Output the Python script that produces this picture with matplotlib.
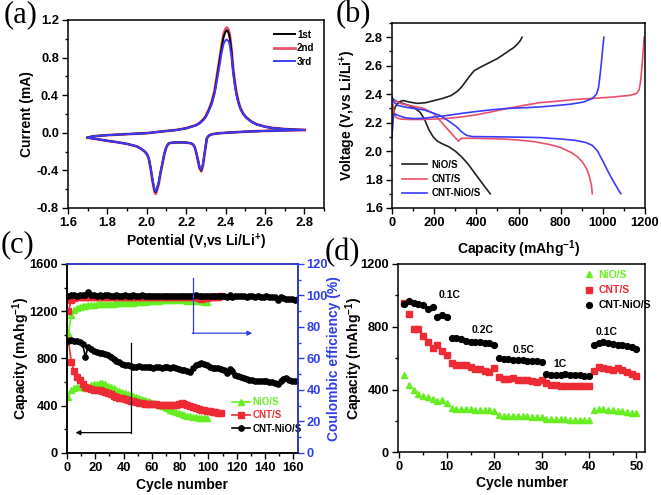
"""Four-panel Li-S cell figure: CV, charge/discharge, cycling, rate capability."""

import numpy as np
import matplotlib

matplotlib.use("Agg")
import matplotlib.pyplot as plt
from matplotlib.ticker import MultipleLocator

W, H = 661, 495

# ---- (a) cyclic voltammetry -------------------------------------------------
cv_cath_v = [2.80, 2.70, 2.60, 2.50, 2.45, 2.40, 2.36, 2.33, 2.315, 2.305,
             2.295, 2.285, 2.277, 2.268, 2.260, 2.250, 2.243, 2.235, 2.225, 2.20,
             2.17, 2.14, 2.12, 2.11, 2.10, 2.09, 2.08, 2.07, 2.06, 2.05,
             2.045, 2.04, 2.03, 2.02, 2.01, 2.00, 1.99, 1.97, 1.95, 1.90,
             1.85, 1.80, 1.75, 1.70]
cv_cath_1st = [0.030, 0.026, 0.020, 0.012, 0.006, 0.000, -0.006, -0.016, -0.030, -0.060,
               -0.200, -0.340, -0.400, -0.370, -0.290, -0.200, -0.150, -0.125, -0.112, -0.104,
               -0.102, -0.103, -0.108, -0.115, -0.150, -0.215, -0.320, -0.420, -0.535, -0.610,
               -0.630, -0.615, -0.515, -0.380, -0.270, -0.225, -0.200, -0.168, -0.145, -0.118,
               -0.100, -0.085, -0.068, -0.052]
cv_cath_2nd = [0.030, 0.026, 0.020, 0.012, 0.006, 0.000, -0.006, -0.016, -0.030, -0.062,
               -0.205, -0.350, -0.410, -0.378, -0.295, -0.202, -0.150, -0.125, -0.112, -0.104,
               -0.102, -0.103, -0.108, -0.115, -0.150, -0.218, -0.325, -0.430, -0.550, -0.625,
               -0.650, -0.630, -0.525, -0.385, -0.272, -0.225, -0.200, -0.168, -0.145, -0.118,
               -0.100, -0.085, -0.068, -0.052]
cv_cath_3rd = [0.030, 0.026, 0.020, 0.012, 0.006, 0.000, -0.006, -0.016, -0.030, -0.060,
               -0.195, -0.335, -0.392, -0.362, -0.285, -0.198, -0.150, -0.125, -0.112, -0.104,
               -0.102, -0.103, -0.108, -0.115, -0.150, -0.212, -0.315, -0.415, -0.530, -0.600,
               -0.620, -0.605, -0.510, -0.375, -0.268, -0.225, -0.200, -0.168, -0.145, -0.118,
               -0.100, -0.085, -0.068, -0.052]

cv_anod_v = [1.70, 1.72, 1.75, 1.80, 1.90, 2.00, 2.08, 2.15, 2.20, 2.25,
             2.27, 2.29, 2.30, 2.315, 2.33, 2.345, 2.355, 2.37, 2.38, 2.39,
             2.40, 2.407, 2.415, 2.421, 2.43, 2.438, 2.447, 2.455, 2.465, 2.475,
             2.49, 2.506, 2.53, 2.557, 2.60, 2.64, 2.70, 2.75, 2.80]
cv_anod_1st = [-0.052, -0.040, -0.033, -0.025, -0.014, -0.004, 0.015, 0.030, 0.048, 0.080,
               0.105, 0.145, 0.175, 0.240, 0.320, 0.440, 0.570, 0.770, 0.900, 1.020,
               1.075, 1.090, 1.065, 1.020, 0.870, 0.675, 0.525, 0.420, 0.330, 0.260,
               0.200, 0.160, 0.120, 0.090, 0.065, 0.050, 0.040, 0.034, 0.030]
cv_anod_2nd = [-0.052, -0.040, -0.033, -0.025, -0.014, -0.004, 0.015, 0.030, 0.048, 0.082,
               0.108, 0.150, 0.180, 0.248, 0.330, 0.455, 0.590, 0.790, 0.925, 1.050,
               1.105, 1.120, 1.095, 1.045, 0.895, 0.695, 0.540, 0.430, 0.337, 0.265,
               0.204, 0.163, 0.122, 0.091, 0.066, 0.051, 0.040, 0.034, 0.030]
cv_anod_3rd = [-0.052, -0.040, -0.033, -0.025, -0.014, -0.004, 0.015, 0.030, 0.048, 0.078,
               0.102, 0.140, 0.170, 0.232, 0.305, 0.420, 0.540, 0.720, 0.850, 0.945,
               0.985, 0.992, 0.975, 0.935, 0.815, 0.645, 0.505, 0.405, 0.320, 0.255,
               0.197, 0.158, 0.118, 0.089, 0.064, 0.050, 0.040, 0.034, 0.030]

# ---- (b) charge / discharge profiles ----------------------------------------
nio_chg_cap = [0, 3, 8, 15, 25, 40, 55, 80, 120, 160, 200, 240, 280, 310, 330, 350,
               370, 390, 420, 460, 500, 540, 580, 600, 610, 617]
nio_chg_v = [2.10, 2.20, 2.27, 2.31, 2.33, 2.35, 2.355, 2.345, 2.335, 2.34, 2.355,
             2.37, 2.39, 2.42, 2.45, 2.49, 2.53, 2.565, 2.59, 2.62, 2.65, 2.69,
             2.73, 2.76, 2.78, 2.80]
nio_dis_cap = [0, 20, 50, 80, 110, 135, 155, 175, 195, 215, 240, 270, 300, 330, 360,
               390, 420, 445, 466]
nio_dis_v = [2.37, 2.35, 2.335, 2.32, 2.30, 2.27, 2.22, 2.15, 2.10, 2.07, 2.05, 2.03,
             2.00, 1.96, 1.91, 1.85, 1.79, 1.74, 1.70]

cnt_chg_cap = [0, 4, 10, 20, 40, 80, 150, 250, 330, 400, 470, 550, 620, 700, 780,
               860, 950, 1050, 1130, 1160, 1172, 1180, 1187, 1192, 1196]
cnt_chg_v = [2.26, 2.33, 2.27, 2.235, 2.225, 2.222, 2.222, 2.228, 2.24, 2.255, 2.275,
             2.30, 2.32, 2.34, 2.35, 2.362, 2.37, 2.38, 2.392, 2.405, 2.43, 2.50,
             2.62, 2.72, 2.80]
cnt_dis_cap = [0, 10, 50, 100, 150, 197, 230, 260, 290, 315, 330, 380, 450, 520, 600,
               680, 750, 800, 850, 880, 905, 925, 938, 946, 950]
cnt_dis_v = [2.36, 2.355, 2.33, 2.315, 2.30, 2.264, 2.21, 2.16, 2.11, 2.07, 2.09, 2.09,
             2.088, 2.085, 2.078, 2.065, 2.045, 2.025, 1.99, 1.96, 1.92, 1.87, 1.81,
             1.76, 1.70]

cnio_chg_cap = [0, 3, 8, 15, 30, 60, 100, 150, 200, 260, 330, 400, 470, 550, 630,
                700, 780, 850, 910, 950, 970, 980, 988, 995, 1000, 1005]
cnio_chg_v = [2.10, 2.20, 2.25, 2.26, 2.25, 2.235, 2.228, 2.23, 2.24, 2.25, 2.265,
              2.278, 2.29, 2.30, 2.305, 2.31, 2.32, 2.33, 2.345, 2.37, 2.40, 2.45,
              2.55, 2.65, 2.73, 2.80]
cnio_dis_cap = [0, 10, 30, 60, 100, 150, 190, 228, 270, 307, 330, 355, 380, 500, 600,
                700, 800, 870, 920, 950, 975, 1000, 1020, 1045, 1065, 1085]
cnio_dis_v = [2.38, 2.34, 2.32, 2.31, 2.30, 2.29, 2.27, 2.25, 2.21, 2.17, 2.135, 2.11,
              2.102, 2.10, 2.098, 2.095, 2.085, 2.075, 2.06, 2.04, 2.00, 1.93, 1.87,
              1.80, 1.75, 1.70]

# ---- (c) long cycling (every second cycle) ----------------------------------
cyc_cnio = np.arange(1, 164, 2)
cap_cnio = [950, 955, 950, 945, 935, 920, 815, 900, 880, 865,
            850, 845, 845, 838, 830, 810, 795, 780, 770, 755,
            745, 740, 735, 730, 728, 732, 728, 728, 725, 728,
            722, 725, 724, 722, 728, 724, 722, 725, 715, 712,
            705, 700, 695, 682, 715, 740, 755, 762, 750, 742,
            730, 722, 718, 715, 712, 705, 680, 710, 690, 660,
            650, 640, 635, 628, 620, 615, 612, 612, 608, 612,
            605, 600, 598, 590, 580, 612, 625, 630, 618, 612,
            610, 605]
ce_cnio = [99.8, 100.2, 100.0, 99.6, 100.3, 100.1, 100.4, 102.0, 100.5, 100.2,
           99.9, 100.1, 99.7, 100.0, 100.2, 99.8, 99.9, 100.1, 99.6, 99.9,
           100.0, 99.7, 99.8, 100.1, 99.6, 99.9, 100.0, 99.7, 99.8, 99.5,
           99.8, 99.6, 99.9, 99.7, 99.6, 99.8, 99.5, 99.7, 99.6, 99.8,
           99.5, 99.7, 99.6, 99.8, 99.7, 100.0, 99.5, 99.8, 99.6, 99.7,
           99.9, 99.5, 99.7, 99.4, 99.8, 99.6, 99.3, 100.2, 99.0, 99.6,
           99.4, 99.7, 99.5, 99.3, 99.6, 99.4, 99.2, 99.5, 99.3, 99.1,
           99.4, 99.0, 98.8, 99.2, 97.0, 99.1, 98.3, 97.8, 97.5, 97.8,
           97.4, 97.6]

cyc_cnt = np.arange(1, 110, 2)
cap_cnt = [955, 770, 690, 645, 620, 580, 560, 548, 540, 533,
           530, 528, 526, 515, 505, 495, 482, 474, 468, 461,
           455, 448, 442, 436, 430, 424, 420, 417, 414, 413,
           412, 410, 408, 406, 404, 404, 403, 404, 405, 410,
           418, 415, 408, 395, 385, 376, 370, 364, 360, 356,
           350, 346, 342, 338, 334]
ce_cnt = [90.0, 97.0, 98.3, 98.7, 98.9, 99.0, 99.1, 99.0, 99.2, 99.1,
          99.0, 99.2, 99.1, 99.0, 99.1, 99.2, 99.0, 99.1, 99.2, 99.1,
          99.0, 99.1, 99.2, 99.1, 99.0, 99.2, 99.1, 99.0, 99.2, 99.1,
          99.0, 99.1, 99.2, 99.1, 99.2, 99.0, 99.1, 99.2, 99.1, 99.3,
          99.2, 99.1, 99.2, 99.3, 99.2, 99.0, 98.3, 98.0, 98.2, 98.5,
          98.7, 98.9, 99.0, 99.2, 99.4]

cyc_nio = np.arange(1, 100, 2)
cap_nio = [470, 530, 548, 555, 560, 556, 552, 560, 572, 580,
           585, 588, 590, 585, 568, 555, 545, 535, 522, 512,
           504, 498, 488, 481, 472, 465, 458, 450, 441, 432,
           424, 416, 405, 394, 385, 375, 364, 355, 345, 338,
           330, 322, 315, 310, 305, 300, 296, 294, 292, 290]
ce_nio = [76.0, 87.5, 90.5, 92.0, 92.8, 93.3, 93.6, 93.9, 94.0, 94.2,
          94.3, 94.4, 94.5, 94.4, 94.6, 94.7, 94.8, 94.9, 95.0, 95.1,
          95.3, 95.2, 95.5, 95.4, 95.6, 95.8, 95.7, 96.0, 96.2, 96.3,
          96.5, 96.4, 96.6, 96.8, 97.0, 97.2, 97.4, 97.1, 97.3, 97.5,
          97.0, 96.8, 96.6, 96.8, 96.5, 96.3, 96.2, 96.4, 96.0, 95.8]

# ---- (d) rate capability ----------------------------------------------------
rate_cyc = np.arange(1, 51)
rate_nio = [493, 432, 397, 370, 361, 354, 340, 329, 331, 316,
            280, 277, 276, 276, 274, 272, 271, 270, 268, 266,
            238, 232, 231, 230, 230, 229, 229, 228, 227, 226,
            215, 210, 210, 210, 210, 208, 208, 208, 207, 206,
            268, 278, 276, 272, 268, 266, 262, 258, 252, 250]
rate_cnt = [949, 881, 786, 786, 743, 701, 667, 684, 648, 620,
            567, 556, 556, 556, 542, 531, 531, 520, 510, 535,
            478, 467, 467, 471, 461, 461, 461, 457, 446, 461,
            440, 429, 429, 425, 425, 425, 425, 425, 423, 423,
            518, 546, 538, 533, 525, 538, 522, 512, 500, 486]
rate_cnio = [945, 966, 950, 945, 939, 915, 924, 860, 875, 862,
             730, 730, 720, 709, 705, 700, 700, 698, 695, 685,
             599, 595, 592, 590, 588, 586, 585, 582, 580, 575,
             497, 495, 495, 495, 497, 490, 490, 490, 485, 485,
             684, 698, 705, 698, 690, 686, 682, 680, 670, 660]
rate_labels = ["0.1C", "0.2C", "0.5C", "1C", "0.1C"]
rate_label_pos = [(10.5, 1000), (17.6, 778), (26.2, 650), (33.8, 565), (43.7, 768)]

GREEN = "#66ee22"
RED = "#ee2b35"
CV_RED = "#e8506a"
BLUE = "#3b3bff"
AX_BLUE = "#2f3fe8"
CAP_LABEL = r"Capacity (mAhg$^{-1}$)"
LABEL_FS = 10
TICK_FS = 9.3


def _box(left, top, right, bottom):
    return [left / W, 1 - bottom / H, (right - left) / W, (bottom - top) / H]


def _style(ax):
    ax.tick_params(which="both", direction="out", width=1.0, labelsize=TICK_FS, pad=2.5)
    ax.tick_params(which="major", length=4)
    ax.tick_params(which="minor", length=2.5)
    for s in ax.spines.values():
        s.set_linewidth(1.1)


def _panel_a(ax):
    ax.plot(cv_cath_v, cv_cath_2nd, color=CV_RED, lw=2.0, zorder=2)
    ax.plot(cv_anod_v, cv_anod_2nd, color=CV_RED, lw=2.0, zorder=2, label="2nd")
    ax.plot(cv_cath_v, cv_cath_1st, color="black", lw=1.4, zorder=3)
    ax.plot(cv_anod_v, cv_anod_1st, color="black", lw=1.4, zorder=3, label="1st")
    ax.plot(cv_cath_v, cv_cath_3rd, color=BLUE, lw=1.4, zorder=4)
    ax.plot(cv_anod_v, cv_anod_3rd, color=BLUE, lw=1.4, zorder=4, label="3rd")
    ax.set_xlim(1.6, 2.9)
    ax.set_ylim(-0.8, 1.2)
    ax.xaxis.set_major_locator(MultipleLocator(0.2))
    ax.xaxis.set_minor_locator(MultipleLocator(0.1))
    ax.yaxis.set_major_locator(MultipleLocator(0.4))
    ax.yaxis.set_minor_locator(MultipleLocator(0.2))
    ax.xaxis.set_major_formatter(plt.FormatStrFormatter("%.1f"))
    ax.yaxis.set_major_formatter(plt.FormatStrFormatter("%.1f"))
    ax.set_xlabel(r"Potential (V,vs Li/Li$^{+}$)", fontsize=LABEL_FS)
    ax.set_ylabel("Current (mA)", fontsize=LABEL_FS)
    ax.xaxis.set_label_coords(0.5, -0.125)
    ax.yaxis.set_label_coords(-0.133, 0.5)
    h, l = ax.get_legend_handles_labels()
    order = [1, 0, 2]
    ax.legend([h[i] for i in order], [l[i] for i in order], loc="upper right",
              frameon=False, fontsize=7, handlelength=2.2, handletextpad=0.2,
              labelspacing=0.35, borderaxespad=0.6)
    _style(ax)


def _panel_b(ax):
    ax.plot(nio_chg_cap, nio_chg_v, color="#222222", lw=1.2)
    ax.plot(nio_dis_cap, nio_dis_v, color="#222222", lw=1.2, label="NiO/S")
    ax.plot(cnt_chg_cap, cnt_chg_v, color=CV_RED, lw=1.2)
    ax.plot(cnt_dis_cap, cnt_dis_v, color=CV_RED, lw=1.2, label="CNT/S")
    ax.plot(cnio_chg_cap, cnio_chg_v, color=BLUE, lw=1.2)
    ax.plot(cnio_dis_cap, cnio_dis_v, color=BLUE, lw=1.2, label="CNT-NiO/S")
    ax.set_xlim(0, 1200)
    ax.set_ylim(1.6, 2.9)
    ax.xaxis.set_major_locator(MultipleLocator(200))
    ax.xaxis.set_minor_locator(MultipleLocator(100))
    ax.yaxis.set_major_locator(MultipleLocator(0.2))
    ax.yaxis.set_minor_locator(MultipleLocator(0.1))
    ax.yaxis.set_major_formatter(plt.FormatStrFormatter("%.1f"))
    ax.set_xlabel(CAP_LABEL, fontsize=LABEL_FS)
    ax.set_ylabel(r"Voltage (V,vs Li/Li$^{+}$)", fontsize=LABEL_FS)
    ax.xaxis.set_label_coords(0.5, -0.165)
    ax.yaxis.set_label_coords(-0.134, 0.5)
    ax.legend(loc="lower left", frameon=False, fontsize=7, handlelength=2.6,
              handletextpad=0.5, labelspacing=0.45, borderaxespad=0.6)
    _style(ax)


def _panel_c(ax):
    ax2 = ax.twinx()
    kw = dict(lw=1.2, ms=3.8)
    ax.plot(cyc_nio, cap_nio, "-^", color=GREEN, **kw, label="NiO/S")
    ax.plot(cyc_cnt, cap_cnt, "-s", color=RED, **kw, label="CNT/S")
    ax.plot(cyc_cnio, cap_cnio, "-o", color="black", **kw, label="CNT-NiO/S")
    ax2.plot(cyc_nio, ce_nio, "-^", color=GREEN, **kw)
    ax2.plot(cyc_cnt, ce_cnt, "-s", color=RED, **kw)
    ax2.plot(cyc_cnio, ce_cnio, "-o", color="black", **kw)
    ax.set_xlim(0, 163)
    ax.set_ylim(0, 1600)
    ax2.set_ylim(0, 120)
    ax.xaxis.set_major_locator(MultipleLocator(20))
    ax.xaxis.set_minor_locator(MultipleLocator(10))
    ax.yaxis.set_major_locator(MultipleLocator(400))
    ax.yaxis.set_minor_locator(MultipleLocator(200))
    ax2.yaxis.set_major_locator(MultipleLocator(20))
    ax2.yaxis.set_minor_locator(MultipleLocator(10))
    # guide arrows
    ax.plot([45, 45], [930, 170], color="black", lw=0.9)
    ax.annotate("", xy=(6, 170), xytext=(45.4, 170),
                arrowprops=dict(arrowstyle="-|>", color="black", lw=0.9,
                                mutation_scale=7, shrinkA=0, shrinkB=0))
    ax2.plot([89, 89], [111, 76], color=AX_BLUE, lw=0.9)
    ax2.annotate("", xy=(131, 76), xytext=(88.6, 76),
                 arrowprops=dict(arrowstyle="-|>", color=AX_BLUE, lw=0.9,
                                 mutation_scale=7, shrinkA=0, shrinkB=0))
    ax.set_xlabel("Cycle number", fontsize=LABEL_FS)
    ax.set_ylabel(CAP_LABEL, fontsize=LABEL_FS)
    ax2.set_ylabel("Coulombic efficiency (%)", fontsize=LABEL_FS, color=AX_BLUE)
    ax.xaxis.set_label_coords(0.5, -0.135)
    ax.yaxis.set_label_coords(-0.152, 0.5)
    ax2.yaxis.set_label_coords(1.13, 0.5)
    _style(ax)
    _style(ax2)
    ax2.tick_params(which="both", colors=AX_BLUE)
    for side in ("right", "top"):
        ax2.spines[side].set_color(AX_BLUE)
    leg = ax.legend(loc="lower left", bbox_to_anchor=(0.70, 0.08), frameon=False,
                    fontsize=7, handlelength=1.8, handletextpad=0.3,
                    labelspacing=0.35, borderaxespad=0)
    for t, c in zip(leg.get_texts(), [GREEN, RED, "black"]):
        t.set_color(c)


def _panel_d(ax):
    ax.plot(rate_cyc, rate_nio, "^", color=GREEN, ms=4.5, label="NiO/S")
    ax.plot(rate_cyc, rate_cnt, "s", color=RED, ms=4.2, label="CNT/S")
    ax.plot(rate_cyc, rate_cnio, "o", color="black", ms=4.2, label="CNT-NiO/S")
    for txt, (x, y) in zip(rate_labels, rate_label_pos):
        ax.text(x, y, txt, fontsize=7.5, ha="center", va="center")
    ax.set_xlim(-0.3, 51.8)
    ax.set_ylim(0, 1200)
    ax.xaxis.set_major_locator(MultipleLocator(10))
    ax.xaxis.set_minor_locator(MultipleLocator(5))
    ax.yaxis.set_major_locator(MultipleLocator(400))
    ax.yaxis.set_minor_locator(MultipleLocator(200))
    ax.set_xlabel("Cycle number", fontsize=LABEL_FS)
    ax.set_ylabel(CAP_LABEL, fontsize=LABEL_FS)
    ax.xaxis.set_label_coords(0.5, -0.125)
    ax.yaxis.set_label_coords(-0.135, 0.5)
    leg = ax.legend(loc="upper left", bbox_to_anchor=(0.735, 0.99), frameon=False,
                    fontsize=7.5, handlelength=1.0, handletextpad=0.4,
                    labelspacing=0.5, borderaxespad=0)
    for t, c in zip(leg.get_texts(), [GREEN, RED, "black"]):
        t.set_color(c)
    _style(ax)


def main():
    plt.rcParams["font.family"] = ["Liberation Sans", "DejaVu Sans"]
    plt.rcParams["font.weight"] = "bold"
    plt.rcParams["axes.labelweight"] = "bold"
    plt.rcParams["axes.unicode_minus"] = False
    plt.rcParams["mathtext.fontset"] = "custom"
    plt.rcParams["mathtext.rm"] = "Liberation Sans:bold"
    plt.rcParams["mathtext.bf"] = "Liberation Sans:bold"
    plt.rcParams["mathtext.default"] = "bf"

    fig = plt.figure(figsize=(W / 100, H / 100), dpi=100)
    ax_a = fig.add_axes(_box(68, 20, 324, 208))
    ax_b = fig.add_axes(_box(392, 23, 645, 208))
    ax_c = fig.add_axes(_box(67, 264, 297.5, 452.7))
    ax_d = fig.add_axes(_box(398, 264, 645, 452.3))

    _panel_a(ax_a)
    _panel_b(ax_b)
    _panel_c(ax_c)
    _panel_d(ax_d)

    for lab, (x, y) in zip(["(a)", "(b)", "(c)", "(d)"],
                           [(4, 0), (336, 0), (1, 230), (325, 238)]):
        fig.text(x / W, 1 - y / H, lab, fontsize=22, family="Liberation Serif",
                 weight="normal", ha="left", va="top")

    fig.savefig("out.png", dpi=100)
    plt.close(fig)


if __name__ == "__main__":
    main()
